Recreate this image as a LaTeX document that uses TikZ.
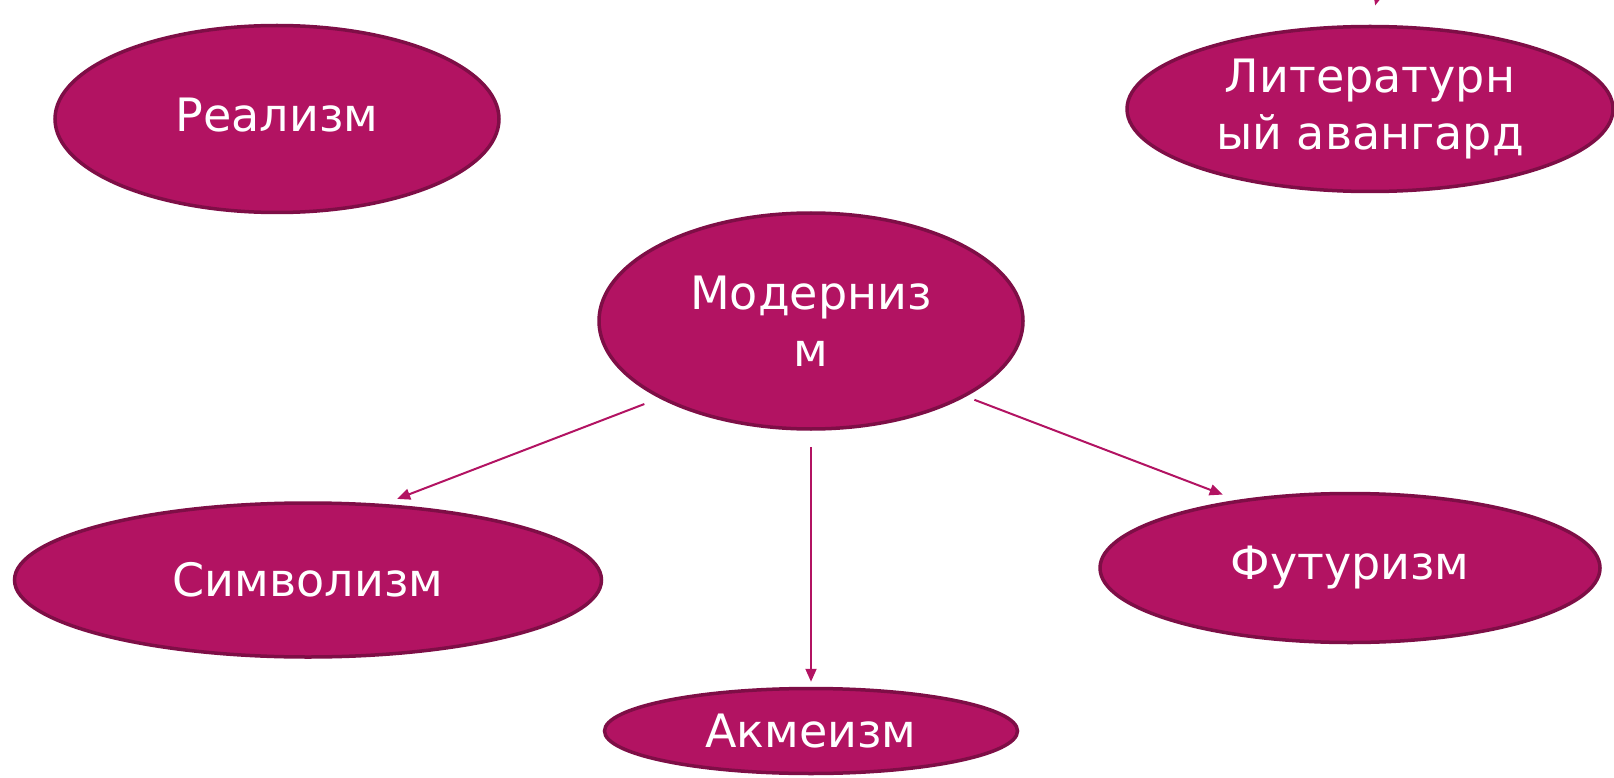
\documentclass[tikz,border=0pt]{standalone}
\usepackage{fontspec}
\setmainfont{DejaVu Sans}
\usetikzlibrary{shapes.geometric,arrows.meta}
\definecolor{berry}{RGB}{178,19,98}
\definecolor{berrydark}{RGB}{126,14,70}
\begin{document}
\begin{tikzpicture}
  [x=1pt,y=-1pt,every node/.style={ellipse,fill=berry,draw=berrydark,line width=3.5pt,text=white,font=\fontsize{46}{57}\selectfont,align=center,inner sep=0pt}]
  \tikzstyle{link} = [draw=berry,line width=2pt,-{Triangle[length=13pt,width=11pt]}]
  \useasboundingbox (0,0) rectangle (1614,778);
  \clip (0,0) rectangle (1614,778);
  \node[minimum width=444pt,minimum height=187pt] (real) at (277,119) {\raisebox{8pt}{Реализм}};
  \node[minimum width=486pt,minimum height=165pt] (lit) at (1370,109) {Литературн\\ый авангард};
  \node[minimum width=424pt,minimum height=216pt] (mod) at (811,321) {Модерниз\\м};
  \node[minimum width=587pt,minimum height=154pt] (sym) at (308,580) {Символизм};
  \node[minimum width=413pt,minimum height=85pt] (akm) at (811,731) {Акмеизм};
  \node[minimum width=500pt,minimum height=149pt] (fut) at (1350,568) {Футуризм};
  \coordinate (up) at (1382,-20);
  \foreach \source /\dest /\s /\e in {mod.207/sym.45/16/14,mod.south/akm.north/16/5,mod.334/fut.149/9/15}
   \draw[link,shorten <=\s pt,shorten >=\e pt] (\source) -- (\dest);
  \draw[link,shorten >=20pt] (up) -- (lit.north);
\end{tikzpicture}
\end{document}
